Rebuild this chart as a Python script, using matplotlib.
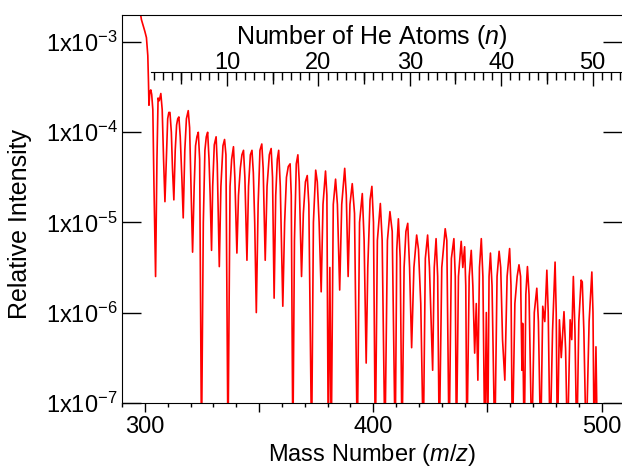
import matplotlib
matplotlib.use("Agg")
import matplotlib.pyplot as plt
import numpy as np
from matplotlib.ticker import FixedLocator, FuncFormatter, LogLocator, MultipleLocator, NullLocator

plt.rcParams["font.family"] = "Liberation Sans"
plt.rcParams["mathtext.fontset"] = "custom"
plt.rcParams["mathtext.rm"] = "Liberation Sans"
plt.rcParams["mathtext.it"] = "Liberation Sans:italic"
plt.rcParams["mathtext.default"] = "regular"

# spectrum: m/z and log10(relative intensity)
# (dips that run off the bottom of the plot are given -7.5)
mass = [
    297.5, 298.5, 300.0, 300.7, 301.3, 301.6, 301.8, 302.2, 302.6, 303.0,
    303.5, 304.0, 304.7, 305.3, 305.8, 306.3, 307.0, 307.6, 308.2, 308.8,
    309.3, 310.0, 310.5, 311.0, 311.6, 312.1, 312.7, 313.3, 313.9, 314.4,
    314.9, 315.5, 316.2, 316.8, 317.5, 318.2, 319.0, 319.6, 320.2, 320.9,
    321.6, 322.2, 322.8, 323.4, 324.0, 324.8, 325.6, 326.3, 326.9, 327.5,
    328.1, 328.6, 329.2, 329.7, 330.4, 331.2, 331.7, 332.6, 333.3, 334.2,
    334.9, 335.5, 336.4, 337.3, 338.0, 338.8, 339.4, 340.3, 341.0, 341.8,
    342.5, 343.2, 343.8, 344.7, 345.4, 346.2, 346.9, 347.5, 348.1, 348.8,
    349.6, 350.4, 351.2, 351.8, 352.7, 353.5, 354.5, 355.3, 355.9, 356.6,
    357.3, 358.0, 358.6, 359.3, 360.4, 361.2, 362.0, 362.8, 363.6, 364.1,
    364.8, 365.5, 366.3, 367.0, 367.6, 368.6, 369.4, 370.3, 371.1, 371.8,
    373.0, 373.8, 374.8, 375.5, 376.3, 377.2, 378.0, 379.1, 379.7, 380.3,
    381.0, 381.6, 382.5, 383.5, 384.3, 385.3, 386.2, 387.5, 388.2, 389.0,
    389.8, 390.8, 391.8, 393.0, 394.0, 395.2, 396.0, 396.9, 397.6, 398.6,
    399.4, 400.1, 400.9, 401.8, 403.1, 403.9, 405.1, 406.2, 407.3, 408.3,
    409.6, 410.3, 411.0, 411.8, 412.6, 413.5, 414.3, 415.1, 415.9, 416.8,
    417.8, 419.0, 419.8, 420.8, 421.9, 422.8, 423.8, 424.6, 426.0, 426.7,
    427.5, 428.2, 428.9, 430.0, 431.5, 432.2, 433.2, 434.2, 435.3, 435.9,
    436.4, 437.3, 438.5, 439.2, 440.0, 440.5, 441.0, 442.0, 442.9, 443.6,
    444.4, 445.1, 445.8, 446.5, 447.3, 448.0, 448.8, 449.5, 450.1, 450.7,
    451.3, 452.0, 453.2, 454.2, 455.1, 455.8, 456.6, 457.6, 458.6, 459.7,
    460.3, 460.9, 462.0, 463.0, 463.8, 464.5, 465.1, 465.4, 466.1, 466.8,
    467.5, 468.2, 469.4, 470.5, 471.6, 472.3, 473.3, 474.2, 475.1, 476.0,
    476.6, 477.4, 478.5, 479.6, 480.1, 480.6, 481.5, 482.3, 483.5, 484.2,
    485.0, 486.2, 486.9, 487.6, 488.3, 489.1, 490.0, 491.0, 491.5, 492.2,
    493.2, 494.5, 495.7, 496.2, 496.7, 497.5, 498.1,
]
log_intensity = [
    -2.59, -2.75, -2.88, -2.95, -3.15, -3.45, -3.70, -3.55, -3.53, -3.58,
    -3.75, -4.60, -5.60, -4.30, -3.62, -3.65, -3.57, -3.75, -4.30, -4.77,
    -4.40, -3.85, -3.78, -3.78, -4.00, -4.40, -4.75, -4.20, -3.92, -3.85,
    -3.83, -4.05, -4.50, -4.95, -4.20, -3.85, -3.76, -3.95, -4.60, -5.33,
    -4.60, -4.15, -4.05, -4.00, -4.30, -7.50, -5.00, -4.20, -4.05, -4.00,
    -4.30, -4.70, -5.31, -4.60, -4.14, -4.05, -4.35, -5.49, -4.60, -4.15,
    -4.08, -4.25, -7.50, -4.60, -4.30, -4.16, -4.50, -5.34, -4.70, -4.40,
    -4.25, -4.20, -4.50, -5.42, -4.60, -4.25, -4.20, -4.45, -5.00, -6.00,
    -4.80, -4.20, -4.13, -4.40, -5.42, -4.60, -4.25, -4.18, -4.50, -5.84,
    -4.70, -4.30, -4.20, -4.60, -5.93, -5.00, -4.50, -4.38, -4.35, -4.70,
    -7.50, -5.20, -4.35, -4.25, -4.55, -5.60, -4.90, -4.55, -4.48, -4.80,
    -7.50, -5.00, -4.42, -4.55, -5.00, -5.77, -4.80, -4.43, -4.70, -7.50,
    -5.50, -7.50, -4.80, -4.52, -4.80, -5.75, -4.80, -4.40, -4.70, -5.60,
    -4.80, -4.57, -4.90, -7.50, -5.00, -4.68, -5.20, -6.56, -5.50, -4.75,
    -4.60, -5.00, -7.50, -5.20, -4.79, -5.20, -7.50, -5.20, -4.88, -5.10,
    -7.50, -5.30, -4.96, -5.40, -7.50, -5.50, -5.10, -5.01, -5.50, -6.39,
    -5.50, -5.14, -5.30, -5.90, -7.50, -5.40, -5.14, -5.50, -6.64, -5.50,
    -5.18, -5.60, -7.50, -5.50, -5.07, -5.20, -7.50, -5.40, -5.18, -5.60,
    -7.50, -5.60, -5.21, -5.50, -5.27, -5.70, -7.50, -5.60, -5.31, -5.70,
    -6.45, -5.90, -6.75, -5.50, -5.18, -5.60, -7.50, -6.00, -7.50, -5.60,
    -5.34, -5.70, -7.50, -5.60, -5.32, -5.50, -6.30, -6.75, -5.60, -5.29,
    -5.70, -7.50, -5.90, -5.60, -5.47, -5.60, -6.64, -6.12, -7.50, -5.80,
    -5.49, -5.80, -7.50, -6.00, -5.73, -6.10, -7.50, -5.93, -6.10, -5.53,
    -6.00, -7.50, -6.20, -5.44, -6.00, -7.50, -6.08, -6.50, -5.99, -6.40,
    -7.50, -6.08, -6.30, -5.60, -6.20, -7.50, -6.10, -5.64, -5.66, -6.20,
    -7.50, -6.10, -5.55, -6.00, -7.50, -6.38, -7.50,
]

# m/z of the cluster with n He atoms = he_offset + he_step * n
he_offset = 296.0
he_step = 4.0
n_labelled = [10, 20, 30, 40, 50]
n_half = [5, 15, 25, 35, 45]
n_every = list(range(2, 54))

intensity = 10.0 ** np.array(log_intensity)

fig = plt.figure(figsize=(6.22, 4.67), dpi=100)
ax = fig.add_axes([122 / 622, 64.3 / 467, 1 - 122 / 622, 387.7 / 467])
ax.plot(mass, intensity, color="#ff0000", lw=1.2)

ax.set_yscale("log")
ax.set_xlim(290, 508.9)
ax.set_ylim(1e-7, 2e-3)

ax.yaxis.set_major_locator(LogLocator(base=10, numticks=10))
ax.yaxis.set_minor_locator(NullLocator())
ax.yaxis.set_major_formatter(
    FuncFormatter(lambda v, p: r"1x10$^{%d}$" % round(np.log10(v)))
)
ax.xaxis.set_major_locator(MultipleLocator(50))
ax.xaxis.set_minor_locator(MultipleLocator(10))
ax.xaxis.set_major_formatter(
    FuncFormatter(lambda v, p: "%d" % v if round(v) % 100 == 0 else "")
)

ax.tick_params(axis="y", which="major", direction="in", length=13.5, width=1,
               left=True, right=True, labelsize=17, pad=3)
ax.tick_params(axis="x", which="major", direction="out", length=6.8, width=1,
               labelsize=17, pad=3)
ax.tick_params(axis="x", which="minor", direction="out", length=3, width=1)
ax.spines["right"].set_visible(False)

ax.set_xlabel("Mass Number ($\\mathit{m/z}$)", fontsize=17)
ax.xaxis.set_label_coords(0.5, -(442 - 402.7) / 387.7)
ax.set_ylabel("Relative Intensity", fontsize=18)
ax.yaxis.set_label_coords(-(122 - 32) / 500, (402.7 - 224) / 387.7)

# He-atom count axis drawn inside the plot
fwd = lambda m: (np.asarray(m) - he_offset) / he_step
inv = lambda n: np.asarray(n) * he_step + he_offset
loc = (402.7 - 71.7) / 387.7

sec = ax.secondary_xaxis(loc, functions=(fwd, inv))
sec.xaxis.set_major_locator(FixedLocator(n_labelled))
sec.xaxis.set_minor_locator(FixedLocator(n_every))
sec.tick_params(which="major", direction="in", length=10.3, width=1,
                labelsize=17, pad=-2)
sec.tick_params(which="minor", direction="in", length=6, width=1)
sec.spines["top"].set_bounds(1.7, 60)
sec.set_xlabel("Number of He Atoms ($\\mathit{n}$)", fontsize=18, labelpad=6)

sec5 = ax.secondary_xaxis(loc, functions=(fwd, inv))
sec5.xaxis.set_major_locator(FixedLocator(n_half))
sec5.xaxis.set_minor_locator(NullLocator())
sec5.tick_params(which="major", direction="in", length=8.4, width=1,
                 labeltop=False)
sec5.spines["top"].set_visible(False)

fig.savefig("out.png", dpi=100)
